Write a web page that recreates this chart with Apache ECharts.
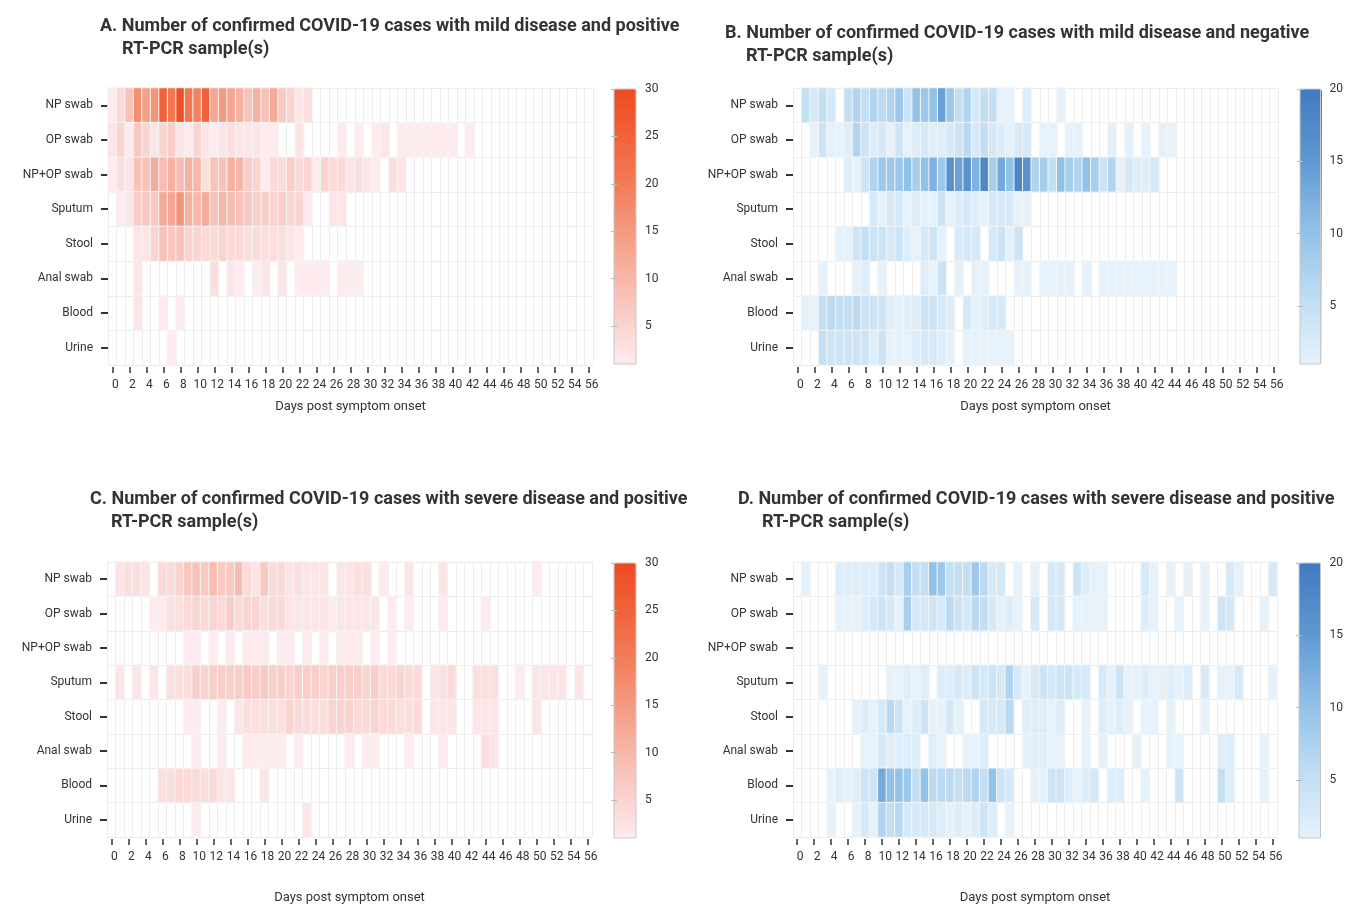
<!DOCTYPE html>
<html><head><meta charset="utf-8">
<script src="https://cdn.jsdelivr.net/npm/echarts@6/dist/echarts.min.js"></script>
<style>html,body{margin:0;padding:0;background:#fff}#c{width:1346px;height:905px}</style>
</head><body><div id="c"></div>
<script>
const days = [0,1,2,3,4,5,6,7,8,9,10,11,12,13,14,15,16,17,18,19,20,21,22,23,24,25,26,27,28,29,30,31,32,33,34,35,36,37,38,39,40,41,42,43,44,45,46,47,48,49,50,51,52,53,54,55,56];
const sampleTypes = ['NP swab','OP swab','NP+OP swab','Sputum','Stool','Anal swab','Blood','Urine'];
const axisName = 'Days post symptom onset';
const panelTitles = [
  ['A. Number of confirmed COVID-19 cases with mild disease and positive', 'RT-PCR sample(s)'],
  ['B. Number of confirmed COVID-19 cases with mild disease and negative', 'RT-PCR sample(s)'],
  ['C. Number of confirmed COVID-19 cases with severe disease and positive', 'RT-PCR sample(s)'],
  ['D. Number of confirmed COVID-19 cases with severe disease and positive', 'RT-PCR sample(s)']
];
const legendMax = [30, 20, 30, 20];
const legendTicksRed = [5, 10, 15, 20, 25, 30];
const legendTicksBlue = [5, 10, 15, 20];

// A: mild disease, positive samples (rows = sampleTypes, cols = days 0..56)
const mildPositive = [
 [1,4,8,17,14,16,25,21,29,21, 19,25,13,15,13,11,8,11,8,12, 7,5,2,3,0,0,0,0,0,0, 0,0,0,0,0,0,0,0,0,0, 0,0,0,0,0,0,0,0,0,0, 0,0,0,0,0,0,0],
 [2,5,1,7,5,2,5,6,2,1, 5,2,1,2,3,2,2,2,1,1, 0,0,2,0,0,0,0,1,0,1, 0,1,2,0,1,1,1,1,1,1, 1,0,1,0,0,0,0,0,0,0, 0,0,0,0,0,0,0],
 [1,3,2,8,8,12,9,11,9,11, 10,3,8,8,11,10,6,5,1,4, 4,6,4,5,1,5,4,4,2,3, 2,1,0,3,2,0,0,0,0,0, 0,0,0,0,0,0,0,0,0,0, 0,0,0,0,0,0,0],
 [0,1,2,6,7,7,12,13,16,11, 10,12,8,10,9,8,7,6,6,5, 6,5,5,1,0,0,2,2,0,0, 0,0,0,0,0,0,0,0,0,0, 0,0,0,0,0,0,0,0,0,0, 0,0,0,0,0,0,0],
 [0,0,0,2,2,5,8,7,8,5, 5,4,4,5,4,4,3,4,3,3, 3,2,1,0,0,0,0,0,0,0, 0,0,0,0,0,0,0,0,0,0, 0,0,0,0,0,0,0,0,0,0, 0,0,0,0,0,0,0],
 [0,0,0,2,0,0,0,0,0,0, 0,0,3,0,2,1,0,1,2,0, 2,0,1,1,1,1,0,1,1,1, 0,0,0,0,0,0,0,0,0,0, 0,0,0,0,0,0,0,0,0,0, 0,0,0,0,0,0,0],
 [0,0,0,2,0,0,1,0,1,0, 0,0,0,0,0,0,0,0,0,0, 0,0,0,0,0,0,0,0,0,0, 0,0,0,0,0,0,0,0,0,0, 0,0,0,0,0,0,0,0,0,0, 0,0,0,0,0,0,0],
 [0,0,0,0,0,0,0,1,0,0, 0,0,0,0,0,0,0,0,0,0, 0,0,0,0,0,0,0,0,0,0, 0,0,0,0,0,0,0,0,0,0, 0,0,0,0,0,0,0,0,0,0, 0,0,0,0,0,0,0]
];
// B: mild disease, negative samples
const mildNegative = [
 [0,5,3,5,3,0,5,7,5,7, 6,7,9,4,10,9,10,14,9,5, 7,3,5,5,1,1,0,2,0,0, 0,1,0,0,0,0,0,0,0,0, 0,0,0,0,0,0,0,0,0,0, 0,0,0,0,0,0,0],
 [0,0,1,4,1,1,2,7,4,2, 3,1,4,1,2,3,2,2,3,4, 6,3,5,3,2,1,3,3,0,1, 1,0,1,1,0,0,0,1,0,1, 0,1,0,1,1,0,0,0,0,0, 0,0,0,0,0,0,0],
 [0,0,0,0,0,0,2,1,4,7, 9,9,9,10,8,10,12,9,16,14, 16,12,18,8,13,10,18,16,7,8, 5,10,8,7,10,8,4,7,1,3, 2,2,3,0,0,0,0,0,0,0, 0,0,0,0,0,0,0],
 [0,0,0,0,0,0,0,0,0,3, 1,3,3,1,2,1,1,4,1,2, 3,2,1,3,3,3,1,1,0,0, 0,0,0,0,0,0,0,0,0,0, 0,0,0,0,0,0,0,0,0,0, 0,0,0,0,0,0,0],
 [0,0,0,0,0,1,1,4,5,4, 4,3,4,2,1,3,4,1,0,3, 3,3,0,3,4,1,4,0,0,0, 0,0,0,0,0,0,0,0,0,0, 0,0,0,0,0,0,0,0,0,0, 0,0,0,0,0,0,0],
 [0,0,0,1,0,0,0,1,2,0, 1,0,0,0,0,2,1,4,0,1, 0,1,1,0,0,0,1,1,0,1, 1,1,1,0,1,0,1,1,1,1, 1,1,1,1,1,0,0,0,0,0, 0,0,0,0,0,0,0],
 [0,1,1,5,6,5,5,6,4,4, 4,2,1,2,2,4,4,3,2,0, 3,1,2,3,3,0,0,0,0,0, 0,0,0,0,0,0,0,0,0,0, 0,0,0,0,0,0,0,0,0,0, 0,0,0,0,0,0,0],
 [0,0,0,5,4,4,4,4,4,2, 4,1,1,1,2,3,3,2,1,0, 1,1,1,1,1,1,0,0,0,0, 0,0,0,0,0,0,0,0,0,0, 0,0,0,0,0,0,0,0,0,0, 0,0,0,0,0,0,0]
];
// C: severe disease, positive samples
const severePositive = [
 [0,2,3,3,2,0,4,4,5,7, 8,7,9,7,7,9,4,2,7,4, 4,2,3,2,2,2,0,2,2,3, 3,0,1,0,0,2,0,0,0,2, 0,0,0,0,0,0,0,0,0,0, 1,0,0,0,0,0,0],
 [0,0,0,0,0,1,1,3,3,4, 5,4,5,4,6,4,5,5,3,4, 4,2,2,2,2,2,1,2,2,2, 2,2,0,1,0,1,0,0,0,1, 0,0,0,0,1,0,0,0,0,0, 0,0,0,0,0,0,0],
 [0,0,0,0,0,0,0,0,0,1, 1,0,1,0,1,0,1,1,1,0, 1,1,0,1,0,1,0,1,1,1, 0,1,0,1,0,0,0,0,0,0, 0,0,0,0,0,0,0,0,0,0, 0,0,0,0,0,0,0],
 [0,2,0,2,0,2,0,3,3,3, 6,5,6,6,6,6,7,6,7,6, 6,5,6,6,6,5,6,6,6,6, 5,6,4,4,5,4,4,0,2,3, 4,0,0,3,3,3,0,0,1,0, 2,2,2,2,0,2,0],
 [0,0,0,0,0,0,0,0,0,1, 1,0,0,1,0,2,3,3,3,3, 3,5,4,4,3,3,5,5,5,4, 4,5,4,4,3,3,4,0,2,2, 2,0,0,2,2,2,0,0,0,0, 2,0,0,0,0,0,0],
 [0,0,0,0,0,0,0,0,0,0, 1,0,0,1,0,0,1,1,1,1, 1,0,1,0,0,0,0,0,1,0, 1,1,0,0,0,1,0,0,0,1, 0,0,0,0,3,2,0,0,0,0, 0,0,0,0,0,0,0],
 [0,0,0,0,0,0,3,3,4,4, 4,3,4,2,2,0,0,0,2,0, 0,0,0,0,0,0,0,0,0,0, 0,0,0,0,0,0,0,0,0,0, 0,0,0,0,0,0,0,0,0,0, 0,0,0,0,0,0,0],
 [0,0,0,0,0,0,0,0,0,0, 1,0,0,0,0,0,0,0,0,0, 0,0,0,2,0,0,0,0,0,0, 0,0,0,0,0,0,0,0,0,0, 0,0,0,0,0,0,0,0,0,0, 0,0,0,0,0,0,0]
];
// D: severe disease, positive samples (blue panel)
const severePositiveD = [
 [0,1,0,0,0,2,2,2,2,2, 4,5,3,8,5,5,10,9,5,5, 5,9,6,3,3,0,1,0,1,0, 3,3,0,4,2,1,1,0,0,0, 0,3,1,0,1,0,1,0,1,0, 0,3,1,0,0,0,3],
 [0,0,0,0,0,1,1,1,2,3, 4,3,1,8,3,3,4,3,6,4, 3,6,5,3,1,2,1,0,3,0, 3,3,0,1,1,1,1,0,0,0, 0,2,1,0,0,1,0,0,1,0, 4,3,0,0,0,1,0],
 [0,0,0,0,0,0,0,0,0,0, 0,0,0,0,0,0,0,0,0,0, 0,0,0,0,0,0,0,0,0,0, 0,0,0,0,0,0,0,0,0,0, 0,0,0,0,0,0,0,0,0,0, 0,0,0,0,0,0,0],
 [0,0,0,1,0,0,0,0,0,0, 0,1,1,2,1,2,0,2,2,3, 2,4,3,4,3,7,3,1,3,4, 3,4,4,3,3,0,3,1,4,1, 1,2,1,1,2,1,2,0,3,0, 1,1,3,0,0,0,1],
 [0,0,0,0,0,0,0,1,2,1, 3,6,4,1,2,4,1,1,3,1, 0,0,3,3,3,6,0,2,2,2, 1,2,0,0,1,0,2,1,2,1, 0,1,1,0,1,0,0,0,1,0, 0,0,0,0,0,0,0],
 [0,0,0,0,0,0,0,0,1,1, 3,2,2,2,2,0,2,1,0,0, 1,1,2,0,0,0,0,1,2,2, 1,1,0,0,1,0,1,0,0,0, 1,0,0,0,1,1,0,0,0,0, 2,2,0,0,0,1,0],
 [0,0,0,0,1,2,1,2,4,4, 13,10,10,9,5,10,6,6,6,5, 6,7,5,10,4,3,0,0,1,1, 4,4,2,1,2,3,0,2,2,0, 0,1,0,0,0,4,0,0,0,0, 5,2,0,0,0,1,0],
 [0,0,0,0,1,0,0,1,3,1, 7,5,6,3,3,3,3,2,1,2, 1,2,4,2,0,1,0,0,0,0, 0,0,0,0,0,0,0,0,0,0, 0,0,0,0,0,0,0,0,0,0, 0,0,0,0,0,0,0]
];

const panelData = [mildPositive, mildNegative, severePositive, severePositiveD];
const redScale = ['#fdebee','#f9cfca','#f7b3a3','#f4977d','#f27a56','#f0613a','#ee4a22'];
const blueScale = ['#e6f2fb','#bddcf3','#8ebfe7','#5d97d1','#3f7bc0'];
const panelColors = [redScale, blueScale, redScale, blueScale];
const panelTicks = [legendTicksRed, legendTicksBlue, legendTicksRed, legendTicksBlue];

const layout = [
  {grid:{left:108,top:88,width:485,height:277}, leg:{left:614,top:89}, t1:{left:100,top:17}, t2:{left:122,top:40}, nameGap:33},
  {grid:{left:793,top:88,width:485,height:277}, leg:{left:1300,top:89}, t1:{left:725,top:24}, t2:{left:746,top:47}, nameGap:33},
  {grid:{left:107,top:562,width:485,height:277}, leg:{left:614,top:563}, t1:{left:90,top:490}, t2:{left:111,top:513}, nameGap:52},
  {grid:{left:793,top:562,width:484,height:277}, leg:{left:1299,top:563}, t1:{left:738,top:490}, t2:{left:762,top:513}, nameGap:52}
];

const FONT = 'Roboto, "Noto Sans", sans-serif';
const option = {
  animation: false,
  backgroundColor: '#ffffff',
  textStyle: {fontFamily: FONT},
  title: [], grid: [], xAxis: [], yAxis: [], visualMap: [], series: []
};

panelData.forEach((rows, i) => {
  const L = layout[i];
  const titleStyle = {fontSize: 18, fontWeight: 'bold', color: '#333333', fontFamily: FONT};
  option.title.push({text: panelTitles[i][0], left: L.t1.left, top: L.t1.top, padding: 0, textStyle: titleStyle});
  option.title.push({text: panelTitles[i][1], left: L.t2.left, top: L.t2.top, padding: 0, textStyle: titleStyle});
  option.grid.push(Object.assign({}, L.grid));
  option.xAxis.push({
    type: 'category', gridIndex: i, data: days, offset: 2,
    axisLine: {show: false},
    axisTick: {show: true, interval: 1, alignWithLabel: true, length: 6, lineStyle: {color: '#333', width: 1.5}},
    axisLabel: {interval: 1, fontSize: 12, color: '#333', margin: 12, padding: [0, 0, 0, 6]},
    splitLine: {show: true, interval: 0, lineStyle: {color: '#ececec', width: 1}},
    name: axisName, nameLocation: 'middle', nameGap: L.nameGap,
    nameTextStyle: {fontSize: 13, color: '#333'}
  });
  option.yAxis.push({
    type: 'category', gridIndex: i, data: sampleTypes, inverse: true,
    axisLine: {show: false},
    axisTick: {show: true, alignWithLabel: true, length: 7, lineStyle: {color: '#333', width: 2}},
    axisLabel: {fontSize: 12, color: '#333', margin: 15, padding: [4, 0, 0, 0]},
    splitLine: {show: true, interval: 0, lineStyle: {color: '#ececec', width: 1}}
  });
  const cells = [];
  rows.forEach((vals, r) => vals.forEach((v, d) => { if (v > 0) cells.push([d, r, v]); }));
  option.series.push({
    type: 'heatmap', xAxisIndex: i, yAxisIndex: i, data: cells,
    itemStyle: {borderColor: '#f4f4f4', borderWidth: 1},
    emphasis: {disabled: true}, progressive: 0
  });
  option.visualMap.push({
    type: 'continuous', seriesIndex: i, dimension: 2, min: 1, max: legendMax[i],
    orient: 'vertical', left: L.leg.left, top: L.leg.top,
    itemWidth: 22, itemHeight: 275, calculable: false, padding: 0, text: null,
    inRange: {color: panelColors[i]}
  });
});

// colour-bar frames and tick labels
panelData.forEach((rows, i) => {
  const L = layout[i];
  const gi = 4 + i;
  option.grid.push({left: L.leg.left, top: L.leg.top, width: 22, height: 275, show: true,
    borderColor: '#c8c8c8', borderWidth: 1, backgroundColor: 'transparent', z: 10});
  option.xAxis.push({type: 'value', gridIndex: gi, show: false, min: 0, max: 1});
  option.yAxis.push({
    type: 'value', gridIndex: gi, min: 1, max: legendMax[i], position: 'right', z: 11,
    axisLine: {show: false}, splitLine: {show: false},
    axisTick: {show: true, inside: true, length: 3, customValues: panelTicks[i], lineStyle: {color: '#bbbbbb'}},
    axisLabel: {show: true, customValues: panelTicks[i], margin: 9, fontSize: 12, color: '#333'}
  });
  option.yAxis.push({
    type: 'value', gridIndex: gi, min: 1, max: legendMax[i], position: 'left', z: 11,
    axisLine: {show: false}, splitLine: {show: false},
    axisTick: {show: true, inside: true, length: 3, customValues: panelTicks[i], lineStyle: {color: '#bbbbbb'}},
    axisLabel: {show: false}
  });
});

const chart = echarts.init(document.getElementById('c'), null, {renderer: 'canvas'});
chart.setOption(option);
</script>
</body></html>
